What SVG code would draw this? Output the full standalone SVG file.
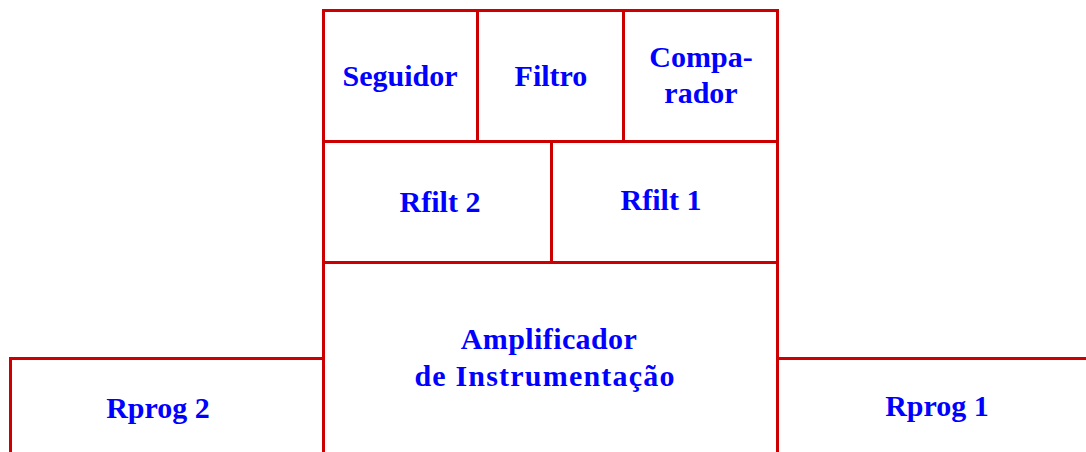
<svg xmlns="http://www.w3.org/2000/svg" width="1086" height="452" viewBox="0 0 1086 452">
<style>
.b{fill:none;stroke:#cc0000;stroke-width:3}
.t{font-family:"Liberation Serif","Times New Roman",serif;font-weight:bold;font-size:30px;fill:#0000ff;text-anchor:middle}
</style>
<rect width="1086" height="452" fill="#ffffff"/>
<g id="seguidor"><rect class="b" x="323.5" y="10.5" width="154" height="131"/><text class="t" x="400" y="86">Seguidor</text></g>
<g id="filtro"><rect class="b" x="477.5" y="10.5" width="146" height="131"/><text class="t" x="551" y="86">Filtro</text></g>
<g id="comparador"><rect class="b" x="623.5" y="10.5" width="154" height="131"/><text class="t" x="701" y="67">Compa-</text><text class="t" x="701" y="103">rador</text></g>
<g id="rfilt2"><rect class="b" x="323.5" y="141.5" width="228" height="121"/><text class="t" x="440" y="212">Rfilt 2</text></g>
<g id="rfilt1"><rect class="b" x="551.5" y="141.5" width="226" height="121"/><text class="t" x="661" y="210">Rfilt 1</text></g>
<g id="amplificador"><rect class="b" x="323.5" y="262.5" width="454" height="200"/><text class="t" x="549" y="349" letter-spacing="0.4">Amplificador</text><text class="t" x="545" y="386" letter-spacing="1.2">de Instrumentação</text></g>
<g id="rprog2"><rect class="b" x="10.5" y="358.5" width="313" height="104"/><text class="t" x="158" y="418">Rprog 2</text></g>
<g id="rprog1"><rect class="b" x="777.5" y="358.5" width="320" height="104"/><text class="t" x="937" y="416">Rprog 1</text></g>
<g id="connectors"></g>
</svg>
